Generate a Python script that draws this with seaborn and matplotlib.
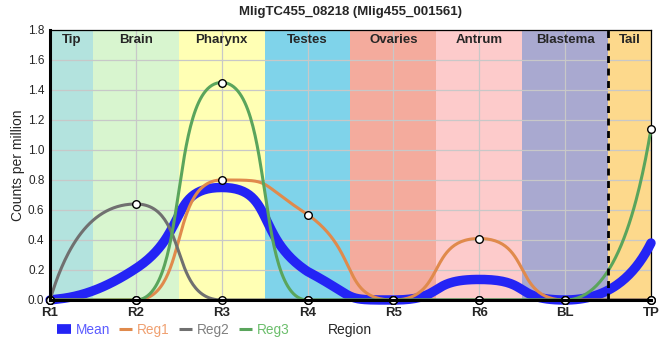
import numpy as np
import pandas as pd
import seaborn as sns
import matplotlib.pyplot as plt
from matplotlib.lines import Line2D

# Data
regions = ["R1", "R2", "R3", "R4", "R5", "R6", "BL", "TP"]
mean_vals = [0.0, 0.21, 0.75, 0.19, 0.0, 0.137, 0.0, 0.38]
reg1_vals = [0.0, 0.0, 0.80, 0.57, 0.0, 0.41, 0.0, 0.0]
reg2_vals = [0.0, 0.64, 0.0, 0.0, 0.0, 0.0, 0.0, 0.0]
reg3_vals = [0.0, 0.0, 1.45, 0.0, 0.0, 0.0, 0.0, 1.14]

band_names = ["Tip", "Brain", "Pharynx", "Testes", "Ovaries", "Antrum", "Blastema", "Tail"]
band_colors = ["#b3e3de", "#d8f5cf", "#ffffb4", "#7fd3ea", "#f4ab9d",
               "#fdcbcb", "#a9a9d0", "#fdd98c"]

series_names = ["Mean", "Reg1", "Reg2", "Reg3"]
series_colors = ["#2424f5", "#e08a4c", "#707070", "#5aa55c"]
text_colors = ["#5b5bff", "#f0a070", "#808080", "#6cbf6c"]


def smooth(xs, ys, a=0.62, n=60):
    # monotone-style cubic bezier through the points, control y kept inside the segment
    xs = np.asarray(xs, float)
    ys = np.asarray(ys, float)
    s = np.diff(ys) / np.diff(xs)
    m = np.zeros(len(ys))
    for i in range(1, len(ys) - 1):
        if s[i - 1] * s[i] > 0:
            p = (s[i - 1] + s[i]) / 2
            m[i] = np.sign(p) * min(2 * abs(s[i - 1]), 2 * abs(s[i]), abs(p))
    m[0] = 2 * s[0] - m[1]
    m[-1] = 2 * s[-1] - m[-2]
    t = np.linspace(0, 1, n)
    bx, by = [], []
    last = len(xs) - 2
    for i in range(len(xs) - 1):
        dx = xs[i + 1] - xs[i]
        lo, hi = min(ys[i], ys[i + 1]), max(ys[i], ys[i + 1])
        # end segments: short steep handle at the outer end, softer at the inner end
        if i == 0:
            ax1, ay1, ax2, ay2 = 0.2, 0.3, 0.5, 0.5
        elif i == last:
            ax1, ay1, ax2, ay2 = 0.5, 0.5, 0.2, 0.3
        else:
            ax1 = ay1 = ax2 = ay2 = a
        c1 = np.clip(ys[i] + ay1 * dx * m[i], lo, hi)
        c2 = np.clip(ys[i + 1] - ay2 * dx * m[i + 1], lo, hi)
        px = [xs[i], xs[i] + ax1 * dx, xs[i + 1] - ax2 * dx, xs[i + 1]]
        py = [ys[i], c1, c2, ys[i + 1]]
        b = [(1 - t) ** 3, 3 * (1 - t) ** 2 * t, 3 * (1 - t) * t ** 2, t ** 3]
        bx.append(sum(c * w for c, w in zip(px, b)))
        by.append(sum(c * w for c, w in zip(py, b)))
    return np.concatenate(bx), np.concatenate(by)


sns.set_style("white")
plt.rcParams["font.family"] = ["Liberation Sans", "DejaVu Sans"]

fig = plt.figure(figsize=(6.6, 3.6), dpi=100)
ax = fig.add_axes([50 / 660, 60 / 360, 601 / 660, 270 / 360])

pos = np.arange(len(regions))

# background bands
edges = [0, 0.5, 1.5, 2.5, 3.5, 4.5, 5.5, 6.5, 7]
for i, name in enumerate(band_names):
    ax.axvspan(edges[i], edges[i + 1], color=band_colors[i], lw=0, zorder=0)
    ax.text((edges[i] + edges[i + 1]) / 2, 1.735, name, ha="center", va="center",
            fontsize=9.5, fontweight="bold", zorder=5)

for y in np.arange(0.2, 1.81, 0.2):
    ax.axhline(y, color="#c8c8c8", lw=0.9, zorder=1)
for x in pos:
    ax.axvline(x, color="#c8c8c8", lw=0.9, zorder=1)

ax.axvline(6.5, color="black", lw=2, ls=(0, (2.5, 2)), zorder=6)

widths = [6.8, 2.2, 2.2, 2.2]
all_vals = [mean_vals, reg1_vals, reg2_vals, reg3_vals]
for name, vals, col, lw in zip(series_names, all_vals, series_colors, widths):
    sx, sy = smooth(pos, vals)
    df = pd.DataFrame({"x": sx, "y": sy})
    sns.lineplot(data=df, x="x", y="y", ax=ax, color=col, lw=lw, sort=False,
                 estimator=None, zorder=3, clip_on=False)

for vals in all_vals[1:]:
    sns.scatterplot(x=pos, y=vals, ax=ax, s=30, color="white", edgecolor="black",
                    linewidth=1, zorder=7, clip_on=False)

ax.set_xlim(0, 7)
ax.set_ylim(0, 1.8)
ax.set_xticks(pos)
ax.set_xticklabels(regions, fontweight="bold", fontsize=9.5)
ax.set_yticks(np.arange(0, 1.81, 0.2))
ax.set_yticklabels([f"{v:.1f}" for v in np.arange(0, 1.81, 0.2)], fontsize=8.5)
ax.tick_params(axis="x", length=0, pad=5)
ax.tick_params(axis="y", length=0, pad=4)
ax.set_ylabel("Counts per million", fontsize=10, labelpad=2)
ax.set_xlabel("")
fig.text(350 / 660, 30 / 360, "Region", ha="center", va="center", fontsize=10)
ax.set_title("MligTC455_08218 (Mlig455_001561)", fontsize=9.5, fontweight="bold", pad=11)

for side in ["left", "bottom"]:
    ax.spines[side].set_linewidth(2.2)
    ax.spines[side].set_zorder(8)
for side in ["top", "right"]:
    ax.spines[side].set_linewidth(0.9)
for sp in ax.spines.values():
    sp.set_color("black")

handles = [Line2D([], [], color=series_colors[0], lw=7, solid_capstyle="butt")]
handles += [Line2D([], [], color=c, lw=2.2, solid_capstyle="butt") for c in series_colors[1:]]
leg = fig.legend(handles, series_names, loc="center left", bbox_to_anchor=(45 / 660, 30 / 360),
                 ncol=4, frameon=False, fontsize=9.8, handlelength=1.0, handletextpad=0.35,
                 columnspacing=0.65)
for txt, c in zip(leg.get_texts(), text_colors):
    txt.set_color(c)

fig.savefig("out.png", dpi=100)
